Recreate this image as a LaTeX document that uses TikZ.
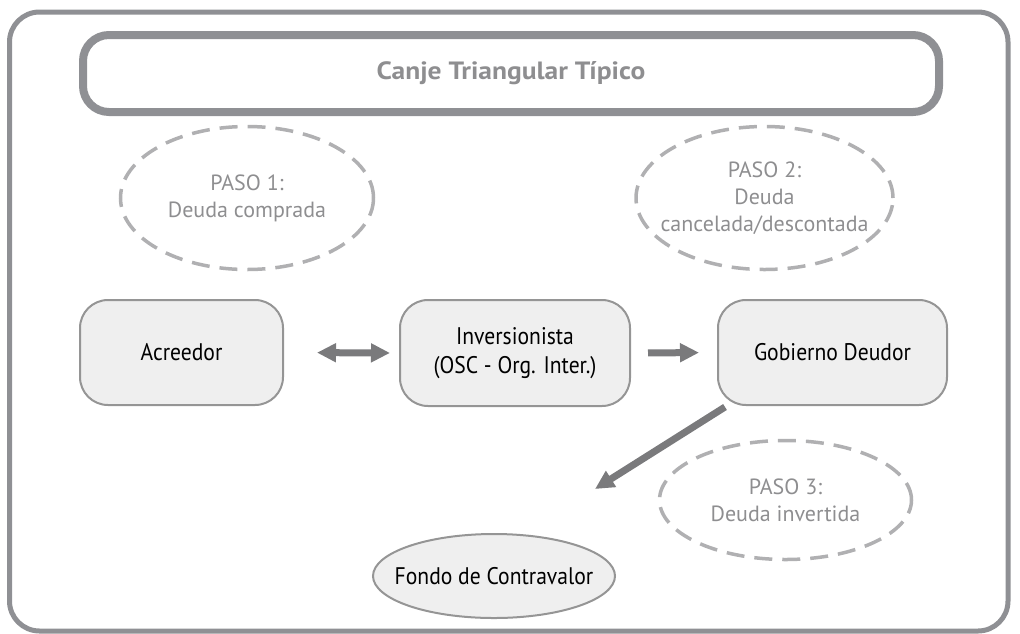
\documentclass[tikz,border=0pt]{standalone}
\usepackage{fontspec}
\setmainfont{PT Sans}
\newfontfamily\boxfont{PT Sans}[FakeStretch=0.9]
\newfontfamily\titlefont{PT Sans}[FakeStretch=1.1]
\usetikzlibrary{shapes.geometric,arrows.meta,calc}
\definecolor{framegray}{HTML}{8F9094}
\definecolor{dashgray}{HTML}{B0B0B2}
\definecolor{txtgray}{HTML}{8E8E90}
\definecolor{boxfill}{HTML}{EFEFEF}
\definecolor{boxline}{HTML}{959595}
\definecolor{arrgray}{HTML}{7A7A7C}
\tikzset{
  stepellipse/.style={ellipse, draw=dashgray, line width=3.5pt, dash pattern=on 18pt off 10pt, inner sep=0pt},
  steptext/.style={text=txtgray, align=center, font=\fontsize{22}{27}\selectfont, inner sep=0pt},
  actor/.style={rounded corners=28pt, draw=boxline, fill=boxfill, line width=2pt,
     align=center, font=\boxfont\fontsize{24}{29}\selectfont, inner sep=0pt},
  fundshape/.style={ellipse, draw=boxline, fill=boxfill, line width=2pt, inner sep=0pt},
  fundtext/.style={font=\boxfont\fontsize{24}{29}\selectfont, inner sep=0pt},
  bigarrow/.style={draw=arrgray, line width=7pt, -{Triangle[length=19pt,width=18pt]}},
  dblarrow/.style={draw=arrgray, line width=7pt, {Triangle[length=19pt,width=18pt]}-{Triangle[length=19pt,width=18pt]}}
}
\begin{document}
\begin{tikzpicture}[x=1pt,y=-1pt]
\useasboundingbox (0,0) rectangle (1020,633);
% outer frame
\draw[framegray, line width=5pt, rounded corners=30pt] (9.5,12) rectangle (1008,631);
% title
\node[draw=framegray, line width=8pt, rounded corners=26pt, minimum width=856pt, minimum height=77pt,
      inner sep=0pt, text=txtgray, font=\titlefont\fontsize{25}{30}\selectfont\bfseries] (title) at (511,73.5) {Canje Triangular Típico};
% step ellipses
\node[stepellipse, minimum width=253pt, minimum height=143pt] (p1) at (247,198) {};
\node[steptext] (p1t) at (p1.center) {PASO 1:\\Deuda comprada};
\node[stepellipse, minimum width=257pt, minimum height=143pt] (p2) at (764.5,198) {};
\node[steptext] (p2t) at (p2.center) {PASO 2:\\Deuda\\cancelada/descontada};
\node[stepellipse, minimum width=252pt, minimum height=119pt] (p3) at (785.5,500) {};
\node[steptext] (p3t) at (p3.center) {PASO 3:\\Deuda invertida};
% actors
\node[actor, minimum width=203pt, minimum height=105pt] (acr) at (181.5,352.5) {Acreedor};
\node[actor, minimum width=230pt, minimum height=106pt] (inv) at (515,353) {Inversionista\\(OSC - Org. Inter.)};
\node[actor, minimum width=229pt, minimum height=105pt] (gob) at (832.5,352.5) {Gobierno Deudor};
\node[fundshape, minimum width=242pt, minimum height=84pt] (fondo) at (494,576) {};
\node[fundtext] (fondot) at (fondo.center) {Fondo de Contravalor};
% arrows
\draw[dblarrow, shorten <=33pt, shorten >=9pt] (acr.east) -- (inv.west);
\draw[bigarrow, shorten <=17pt, shorten >=18pt] (inv.east) -- (gob.west);
\coordinate (tip) at (595,489);
\draw[bigarrow] ($(gob.south west)+(8,1)$) -- (tip);
\end{tikzpicture}
\end{document}
